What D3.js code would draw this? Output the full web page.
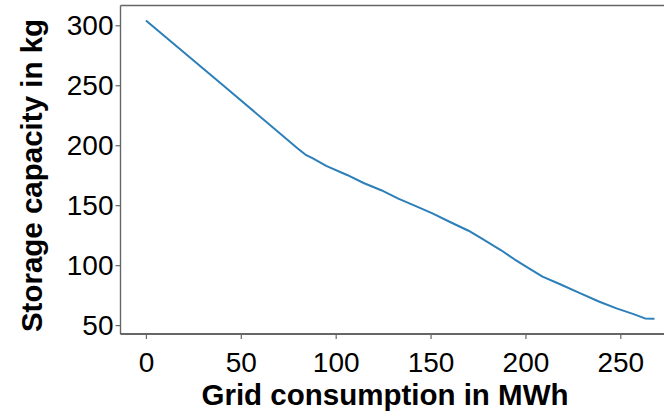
<!DOCTYPE html>
<html>
<head>
<meta charset="utf-8">
<script src="https://cdn.jsdelivr.net/npm/d3@7"></script>
<style>
  body { margin: 0; background: #fff; }
  svg { display: block; font-family: "Liberation Sans", Arial, sans-serif; }
</style>
</head>
<body>
<svg width="664" height="413"></svg>
<script>
// values
var gridMWh = [0, 40, 80, 84, 88, 95, 106, 115, 124, 133, 141, 151, 160, 170, 176,
               187, 194, 201, 209, 218, 229, 239, 248, 257, 263, 268];
var storageKg = [304, 250.8, 197.3, 192.2, 189.0, 182.8, 175.2, 168.3, 162.5, 155.5, 150.1,
                 143.2, 136.2, 128.7, 123.2, 112.6, 105.1, 98.2, 90.4, 84.3, 76.5, 69.5,
                 64, 59.2, 55.6, 55.3];
var xTicks = [0, 50, 100, 150, 200, 250];
var yTicks = [50, 100, 150, 200, 250, 300];

var svg = d3.select("svg");
var plotLeft = 120.5, plotRight = 678, plotTop = 5.5, plotBottom = 334;

var x = d3.scaleLinear().domain([-13.4, 280.4]).range([plotLeft, plotRight]);
var y = d3.scaleLinear().domain([42.6, 316.5]).range([plotBottom, plotTop]);

var pts = gridMWh.map(function(d, i) { return [d, storageKg[i]]; });

var line = d3.line()
    .x(function(d) { return x(d[0]); })
    .y(function(d) { return y(d[1]); });

svg.append("path")
    .datum(pts)
    .attr("d", line)
    .attr("fill", "none")
    .attr("stroke", "#2c7fb8")
    .attr("stroke-width", 2)
    .attr("stroke-linejoin", "round");

// frame
svg.append("line").attr("x1", plotLeft).attr("x2", 664).attr("y1", plotTop).attr("y2", plotTop)
    .attr("stroke", "#666").attr("stroke-width", 1.4);
svg.append("line").attr("x1", plotLeft).attr("x2", plotLeft).attr("y1", plotTop).attr("y2", plotBottom)
    .attr("stroke", "#666").attr("stroke-width", 1.4);
svg.append("line").attr("x1", plotLeft).attr("x2", 664).attr("y1", plotBottom).attr("y2", plotBottom)
    .attr("stroke", "#333").attr("stroke-width", 1.4);

var xAxis = svg.append("g")
    .attr("transform", "translate(0," + plotBottom + ")")
    .call(d3.axisBottom(x).tickValues(xTicks).tickSize(5).tickPadding(13));
var yAxis = svg.append("g")
    .attr("transform", "translate(" + plotLeft + ",0)")
    .call(d3.axisLeft(y).tickValues(yTicks).tickSize(5).tickPadding(2));

[xAxis, yAxis].forEach(function(g) {
    g.select(".domain").remove();
    g.selectAll(".tick line").attr("stroke", "#666").attr("stroke-width", 1.2);
    g.selectAll(".tick text")
        .attr("fill", "#000")
        .style("font-size", "28px")
        .style("font-family", "'Liberation Sans', Arial, sans-serif");
});

svg.append("text")
    .attr("x", 385).attr("y", 405)
    .attr("text-anchor", "middle")
    .style("font-size", "29.5px").style("font-weight", "bold")
    .text("Grid consumption in MWh");

svg.append("text")
    .attr("transform", "translate(41.5,175.5) rotate(-90)")
    .attr("text-anchor", "middle")
    .style("font-size", "29.5px").style("font-weight", "bold")
    .text("Storage capacity in kg");
</script>
</body>
</html>
